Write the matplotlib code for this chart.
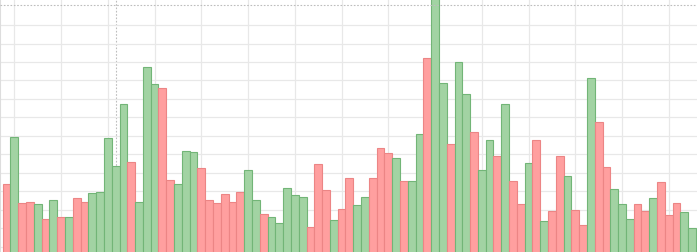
import numpy as np
import matplotlib
matplotlib.use("Agg")
import matplotlib.pyplot as plt

# volume bars (clipped view, bottom of chart not visible)
volumes = [440, 696, 337, 342, 331, 252, 353, 261, 261, 364,
           342, 391, 396, 689, 537, 873, 559, 342, 1073, 981,
           959, 461, 440, 618, 613, 526, 353, 337, 385, 342,
           396, 517, 353, 277, 261, 228, 418, 380, 369, 207,
           548, 407, 245, 304, 472, 326, 369, 472, 634, 607,
           580, 456, 456, 710, 1122, 1480, 986, 656, 1100, 927,
           721, 515, 678, 591, 873, 456, 331, 553, 678, 239,
           293, 591, 483, 299, 217, 1013, 775, 531, 412, 331,
           250, 331, 293, 364, 450, 272, 337, 288, 201]
# U = up day (green), D = down day (red)
directions = list("DUDDUDUDUDDUUUUUDUUUDDUUUDDDDDDUUDUUUUUDDDUDDUUDDDUDUUDUUDUUDUUDUDDUDUDDUDDUDDUUUDDUDDDUU")

crosshair_index = 14
crosshair_value = 1408

up_fill, up_edge = "#a2d3a3", "#72b577"
down_fill, down_edge = "#ff9f9f", "#ec8585"

fig = plt.figure(figsize=(6.97, 2.52), dpi=100)
ax = fig.add_axes([0, 0, 1, 1])

x = np.arange(len(volumes))
fills = [up_fill if d == "U" else down_fill for d in directions]
edges = [up_edge if d == "U" else down_edge for d in directions]
ax.bar(x, volumes, width=1.0, color=fills, edgecolor=edges, linewidth=0.8, zorder=3)

# grid
ax.set_xticks(np.arange(1, len(volumes), 6))
ax.set_yticks(np.arange(100, 1400, 100))
ax.grid(True, color="#e8e8e8", linewidth=0.9, zorder=0)
ax.tick_params(length=0, labelleft=False, labelbottom=False)

# crosshair
ax.axvline(crosshair_index, color="#bdbdbd", linestyle=(0, (1.5, 1.5)), linewidth=0.8, zorder=1)
ax.axhline(crosshair_value, color="#bdbdbd", linestyle=(0, (1.5, 1.5)), linewidth=0.8, zorder=4)

ax.set_xlim(-0.847, 88.63)
ax.set_ylim(71.3, 1435.7)
for side in ["top", "right", "bottom"]:
    ax.spines[side].set_visible(False)
ax.spines["left"].set_color("#dddddd")

fig.savefig("out.png", dpi=100)
